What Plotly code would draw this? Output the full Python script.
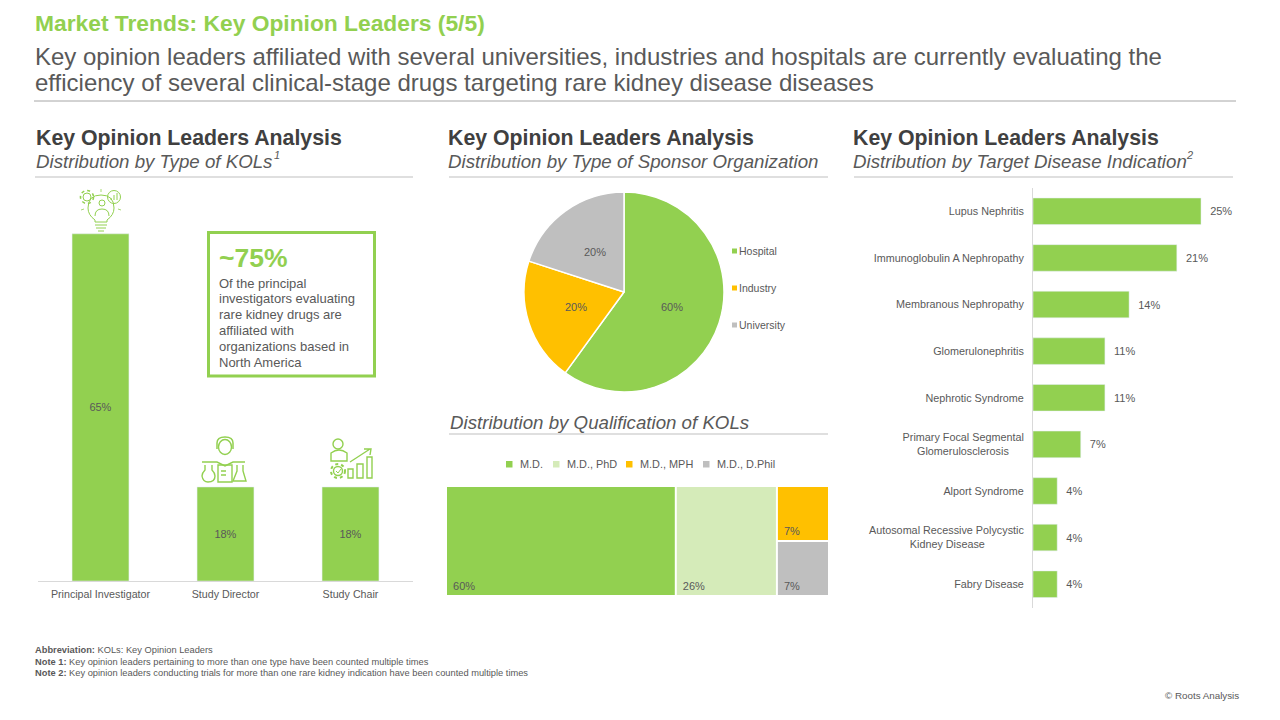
import math
import plotly.graph_objects as go

GREEN = '#92D050'
PALE = '#D5EBB9'
AMBER = '#FFC000'
GREY = '#BFBFBF'
TEXT = '#595959'
DARK = '#404040'
FONT = 'Liberation Sans'

# Type of KOLs
kol_types = ['Principal Investigator', 'Study Director', 'Study Chair']
kol_values = [65, 17.6, 17.6]

# Sponsor organization
sponsor_labels = ['Hospital', 'Industry', 'University']
sponsor_values = [60, 20, 20]
sponsor_colors = [GREEN, AMBER, GREY]

# Qualification
qual_labels = ['M.D.', 'M.D., PhD', 'M.D., MPH', 'M.D., D.Phil']
qual_values = [60, 26.4, 6.8, 6.8]
qual_colors = [GREEN, PALE, AMBER, GREY]

# Target disease indication (nbsp keeps the short second lines centred under the first)
disease_labels = ['Lupus Nephritis', 'Immunoglobulin A Nephropathy', 'Membranous Nephropathy',
                  'Glomerulonephritis', 'Nephrotic Syndrome',
                  'Primary Focal Segmental<br>Glomerulosclerosis' + '\u00a0' * 5, 'Alport Syndrome',
                  'Autosomal Recessive Polycystic<br>Kidney Disease' + '\u00a0' * 13, 'Fabry Disease']
disease_values = [25.0, 21.4, 14.3, 10.7, 10.7, 7.1, 3.6, 3.6, 3.6]

fig = go.Figure()

fig.add_trace(go.Bar(
    x=kol_types, y=kol_values, marker_color=GREEN, width=0.455,
    texttemplate='%{y:.0f}%', textposition='inside', insidetextanchor='middle',
    textfont=dict(size=11, color=TEXT), xaxis='x', yaxis='y', showlegend=False,
))

fig.add_trace(go.Bar(
    x=disease_values, y=disease_labels, orientation='h', marker_color=GREEN, width=0.57,
    texttemplate='\u00a0\u00a0%{x:.0f}%', textposition='outside', cliponaxis=False,
    textfont=dict(size=11, color=TEXT), xaxis='x2', yaxis='y2', showlegend=False,
))

fig.add_trace(go.Pie(
    labels=sponsor_labels, values=sponsor_values, sort=False, direction='clockwise', rotation=0,
    marker=dict(colors=sponsor_colors, line=dict(color='white', width=1.5)),
    textinfo='none', showlegend=False,
    domain=dict(x=[524 / 1280, 724 / 1280], y=[1 - 392 / 720, 1 - 192 / 720]),
))

fig.add_trace(go.Treemap(
    labels=qual_labels, parents=[''] * 4, values=qual_values, sort=True,
    text=[f'\u00a0{v:.0f}%' for v in qual_values], textinfo='text', textposition='bottom left',
    textfont=dict(size=11, color=TEXT),
    marker=dict(colors=qual_colors, line=dict(width=0), pad=dict(t=0, l=0, r=0, b=0)),
    tiling=dict(packing='squarify', pad=2), pathbar=dict(visible=False),
    domain=dict(x=[447 / 1280, 828 / 1280], y=[1 - 595 / 720, 1 - 487 / 720]),
))

# hidden axes spanning the whole slide, for text, rules and icons
fig.add_trace(go.Scatter(x=[None], y=[None], xaxis='x3', yaxis='y3', showlegend=False))

shapes = []
annotations = []


def label(x, y, text, size=11, color=TEXT, anchor='left'):
    annotations.append(dict(x=x, y=y, xref='x3', yref='y3', text=text, showarrow=False,
                            xanchor=anchor, yanchor='middle', align=anchor,
                            font=dict(size=size, color=color, family=FONT)))


def rule(x0, x1, y, color=GREY, width=1):
    shapes.append(dict(type='line', xref='x3', yref='y3', x0=x0, x1=x1, y0=y, y1=y,
                       line=dict(color=color, width=width)))


def square(x0, y0, size, color):
    shapes.append(dict(type='rect', xref='x3', yref='y3', x0=x0, x1=x0 + size, y0=y0, y1=y0 + size,
                       fillcolor=color, line=dict(width=0)))


def stroke(path, width=1.4, color=GREEN):
    shapes.append(dict(type='path', xref='x3', yref='y3', path=path, line=dict(color=color, width=width)))


def ring(cx, cy, rx, ry=None, width=1.4, color=GREEN, dash='solid'):
    ry = ry or rx
    shapes.append(dict(type='circle', xref='x3', yref='y3', x0=cx - rx, x1=cx + rx, y0=cy - ry, y1=cy + ry,
                       line=dict(color=color, width=width, dash=dash)))


# header
label(33, 23, '<b>Market Trends: Key Opinion Leaders (5/5)</b>', size=22.8, color=GREEN)
label(33, 56, 'Key opinion leaders affiliated with several universities, industries and hospitals are currently evaluating the', size=24)
label(33, 82, 'efficiency of several clinical-stage drugs targeting rare kidney disease diseases', size=24)
rule(34, 1236, 101, color='#A6A6A6')

# panel headings
for x, sub in [(34, 'Distribution by Type of KOLs'),
               (446, 'Distribution by Type of Sponsor Organization'),
               (851, 'Distribution by Target Disease Indication')]:
    label(x, 138, '<b>Key Opinion Leaders Analysis</b>', size=21.3, color=DARK)
    label(x, 161, f'<i>{sub}</i>', size=18.7)
label(272, 155, '<i>1</i>', size=11)
label(1184, 155, '<i>2</i>', size=11)
rule(35, 413, 177)
rule(449, 828, 177)
rule(854, 1233, 177)
label(448, 422, '<i>Distribution by Qualification of KOLs</i>', size=18.7)
rule(449, 828, 434)

# callout box
shapes.append(dict(type='rect', xref='x3', yref='y3', x0=208.5, x1=374.5, y0=232.5, y1=376,
                   line=dict(color=GREEN, width=3)))
label(217, 258, '<b>~75%</b>', size=26.5, color=GREEN)
callout = ['Of the principal', 'investigators evaluating', 'rare kidney drugs are',
           'affiliated with', 'organizations based in', 'North America']
for i, line in enumerate(callout):
    label(217, 283 + i * 15.9, line, size=13)

# pie percentages sit at half radius on each slice's mid angle
start = 0
for value in sponsor_values:
    angle = math.radians((start + value / 2) * 3.6)
    label(624 + 50 * math.sin(angle), 292 - 50 * math.cos(angle), f'{value}%', size=11, anchor='center')
    start += value

# pie legend
for name, color, y in zip(sponsor_labels, sponsor_colors, [251, 288, 325]):
    square(732, y - 2.5, 5, color)
    label(737, y, name, size=10.5)

# treemap legend
for name, color, xs in zip(qual_labels, qual_colors, [506, 553, 626, 703]):
    square(xs, 461, 6.5, color)
    label(xs + 12, 464, name, size=10.9)

# footer
label(33, 650, '<b>Abbreviation:</b> KOLs: Key Opinion Leaders', size=9.3)
label(33, 661.5, '<b>Note 1:</b> Key opinion leaders pertaining to more than one type have been counted multiple times', size=9.3)
label(33, 673, '<b>Note 2:</b> Key opinion leaders conducting trials for more than one rare kidney indication have been counted multiple times', size=9.3)
label(1241, 695, '© Roots Analysis', size=9.8, anchor='right')

# lightbulb icon
stroke('M 95 220 Q 88 215 88 208 Q 88 195 101 195 Q 114 195 114 208 Q 114 215 107 220 L 107 222 L 95 222 Z', width=1)
stroke('M 95 225 L 107 225 M 96 228 L 106 228 M 98 231 L 104 231', width=1)
ring(102, 203, 3, width=1)
stroke('M 95 216 Q 95 209 102 209 Q 109 209 109 216', width=1)
stroke('M 101 189 L 101 192 M 84 209 L 81 210 M 118 209 L 121 210', width=0.8)
ring(87, 197, 4, width=1)
ring(87, 197, 6.5, width=1.6, dash='dot')
ring(114, 197, 6.5, width=1)
stroke('M 111 200 L 111 198 M 114 200 L 114 195 M 117 200 L 117 193', width=1)
# scientist icon
ring(225, 447, 6.5, 7.5)
stroke('M 217 449 L 217 443 Q 217 437 225 437 Q 233 437 233 443 L 233 449', width=1.5)
stroke('M 202 462 L 217 462 L 225 466 L 233 462 L 245 462')
stroke('M 218 465 L 232 465 L 232 482 L 218 482 Z')
stroke('M 221 471 L 226 471 M 221 475 L 226 475')
stroke('M 205 465 L 205 470 Q 202 473 202 476 Q 203 482 208 482 Q 215 482 215 476 Q 215 473 212 470 L 212 465')
stroke('M 237 465 L 237 471 L 233 481 L 246 481 L 243 471 L 243 465')
# person with growth chart icon
ring(338, 444, 5)
stroke('M 331 461 L 331 453 Q 339 447 347 453 L 347 461 Z')
ring(338, 471, 4.5, width=1.4)
ring(338, 471, 7, width=2, dash='dot')
stroke('M 336 471 L 338 473 L 341 469', width=1)
stroke('M 348 478 L 348 469 L 353 469 L 353 478 Z M 357 478 L 357 464 L 363 464 L 363 478 Z M 367 478 L 367 457 L 372 457 L 372 478 Z')
stroke('M 350 462 L 370 449 M 364 449 L 371 449 L 370 455')

fig.update_layout(
    width=1280, height=720, margin=dict(l=0, r=0, t=0, b=0),
    paper_bgcolor='white', plot_bgcolor='rgba(0,0,0,0)',
    font=dict(family=FONT, color=TEXT),
    shapes=shapes, annotations=annotations, showlegend=False,
    xaxis=dict(domain=[38 / 1280, 413 / 1280], showgrid=False, ticks='outside', ticklen=3, tickcolor='white',
               zeroline=False, showline=True, linecolor='#D9D9D9', tickfont=dict(size=10.7, color=TEXT)),
    yaxis=dict(domain=[1 - 581 / 720, 1 - 190 / 720], range=[0, 73.2], visible=False),
    xaxis2=dict(domain=[1033 / 1280, 1233 / 1280], range=[0, 29.76], visible=False),
    yaxis2=dict(domain=[1 - 607.5 / 720, 1 - 188 / 720], anchor='x2', autorange='reversed', showgrid=False,
                ticks='outside', ticklen=6, tickcolor='white', zeroline=False, showline=True, linecolor='#D9D9D9',
                tickfont=dict(size=10.8, color=TEXT)),
    xaxis3=dict(domain=[0, 1], range=[0, 1280], visible=False, anchor='y3'),
    yaxis3=dict(domain=[0, 1], range=[720, 0], visible=False, anchor='x3'),
)

fig.write_html("out.html", post_script="document.body.style.margin='0';", config={'displayModeBar': False})
